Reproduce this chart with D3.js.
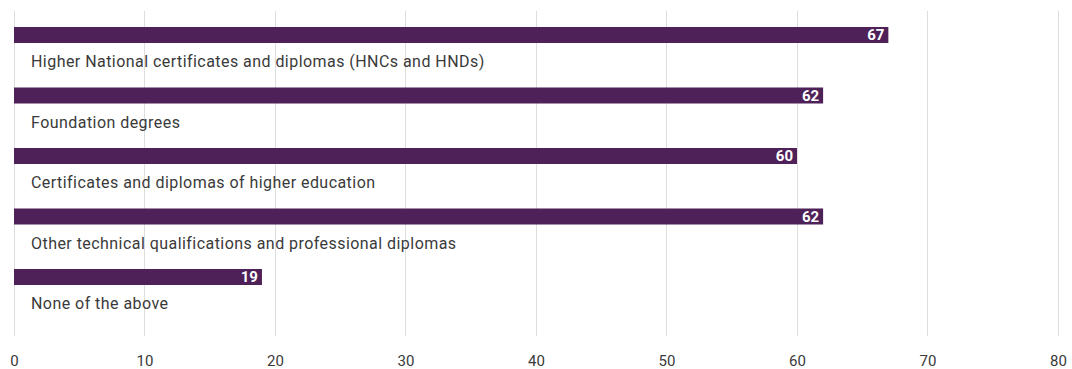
<!DOCTYPE html>
<html><head><meta charset="utf-8">
<script src="https://cdn.jsdelivr.net/npm/d3@7"></script>
<style>
body{margin:0;background:#fff;}
svg{display:block;font-family:Roboto, "Open Sans", sans-serif;}
</style></head>
<body><svg id="c" width="1072" height="369"></svg>
<script>
const categories = [
  "Higher National certificates and diplomas (HNCs and HNDs)",
  "Foundation degrees",
  "Certificates and diplomas of higher education",
  "Other technical qualifications and professional diplomas",
  "None of the above"
];
const values = [67, 62, 60, 62, 19];
const tickValues = [0, 10, 20, 30, 40, 50, 60, 70, 80];

const svg = d3.select("#c");
const x = d3.scaleLinear().domain([0, 80]).range([14, 1058]);
const y = d3.scaleBand().domain(categories).range([27, 27 + 5 * 60.5]).paddingInner(0).paddingOuter(0);
const barH = 16;

// gridlines
svg.append("g").selectAll("line").data(tickValues).join("line")
  .attr("x1", d => x(d)).attr("x2", d => x(d))
  .attr("y1", 11).attr("y2", 336)
  .attr("stroke", "#dedede").attr("stroke-width", 1)
  .attr("shape-rendering", "crispEdges");

// axis
const axis = d3.axisBottom(x).tickValues(tickValues).tickSize(0).tickPadding(0).tickFormat(d3.format("d"));
const ag = svg.append("g").attr("transform", "translate(0,355)").call(axis);
ag.select(".domain").remove();
ag.selectAll("text").attr("font-size", 15).attr("fill", "#3a3a3a").attr("font-family", "Roboto, sans-serif").attr("dy", "0.75em");

// bars
svg.append("g").selectAll("rect").data(values).join("rect")
  .attr("x", x(0)).attr("y", (d, i) => y(categories[i]))
  .attr("width", d => x(d) - x(0)).attr("height", barH)
  .attr("fill", "#4e2159");

// value labels
svg.append("g").selectAll("text").data(values).join("text")
  .attr("x", d => x(d) - 4).attr("y", (d, i) => y(categories[i]) + 13)
  .attr("text-anchor", "end").attr("fill", "#fff")
  .attr("font-size", 15).attr("font-weight", "bold")
  .text(d => d);

// category labels
svg.append("g").selectAll("text").data(categories).join("text")
  .attr("x", 31).attr("y", d => y(d) + 40)
  .attr("fill", "#3a3a3a").attr("font-size", 16).attr("letter-spacing", "0.45px")
  .text(d => d);
</script></body></html>
